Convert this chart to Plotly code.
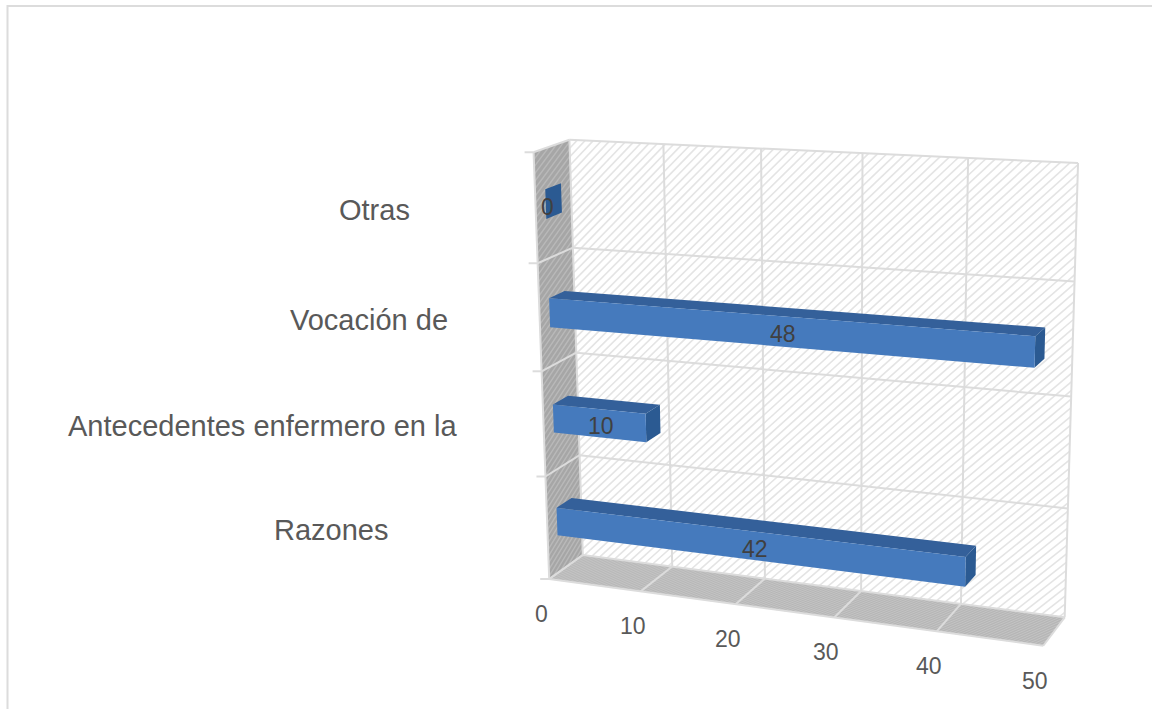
import numpy as np
import plotly.graph_objects as go

# Chart data, bottom to top
categories = ["Razones", "Antecedentes enfermero en la", "Vocación de", "Otras"]
values = [42, 10, 48, 0]
tick_values = [0, 10, 20, 30, 40, 50]

W, H = 1152, 709
V_MAX = 50
N_CAT = len(categories)

TEXT = "#595959"
FONT = "Liberation Sans"
BAR_FRONT, BAR_TOP, BAR_SIDE = "#457abd", "#34609a", "#2b5a92"
GRID = "#dcdcdc"

# Oblique 3D view: reference points (value, category, depth) -> page pixels.
view_pairs = [
    ((0, N_CAT, 1), (570, 140)),
    ((V_MAX, N_CAT, 1), (1078, 163)),
    ((V_MAX, 0, 1), (1065, 617)),
    ((0, 0, 1), (582, 555)),
    ((0, 0, 0), (550, 579)),
    ((V_MAX, 0, 0), (1043, 646)),
    ((0, N_CAT, 0), (533, 152)),
]


def solve_camera(pairs):
    rows = []
    for (x, y, z), (u, v) in pairs:
        # Normalise so the value axis is on the same scale as the others
        p = [x / V_MAX, y / N_CAT, z, 1.0]
        rows.append(p + [0, 0, 0, 0] + [-u * c for c in p])
        rows.append([0, 0, 0, 0] + p + [-v * c for c in p])
    _, _, vt = np.linalg.svd(np.array(rows) / 1000.0)
    return vt[-1].reshape(3, 4)


CAM = solve_camera(view_pairs)


def project(v, c, d):
    h = CAM @ np.array([v / V_MAX, c / N_CAT, d, 1.0])
    return h[0] / h[2], h[1] / h[2]


fig = go.Figure()


def polygon(corners, color):
    pts = [project(*p) for p in corners]
    pts.append(pts[0])
    fig.add_trace(go.Scatter(x=[p[0] for p in pts], y=[p[1] for p in pts], mode="lines",
                             line=dict(width=0), fill="toself", fillcolor=color,
                             hoverinfo="skip", showlegend=False))


def segments(pairs, color, width):
    xs, ys = [], []
    for a, b in pairs:
        pa, pb = project(*a), project(*b)
        xs += [pa[0], pb[0], None]
        ys += [pa[1], pb[1], None]
    fig.add_trace(go.Scatter(x=xs, y=ys, mode="lines", line=dict(color=color, width=width),
                             hoverinfo="skip", showlegend=False))


def hatch(to_3d, w_px, h_px, step, color, width):
    """Up-right diagonal strokes over a wall given by to_3d(u, w), both in 0..1."""
    pairs = []
    for t in np.arange(-h_px, w_px, step):
        # Stroke: u*w_px - w*h_px = t, clipped to the unit square
        u0, w0 = (t / w_px, 0.0) if t >= 0 else (0.0, -t / h_px)
        u1, w1 = (1.0, (w_px - t) / h_px) if (w_px - t) / h_px <= 1 else ((t + h_px) / w_px, 1.0)
        pairs.append((to_3d(u0, w0), to_3d(u1, w1)))
    segments(pairs, color, width)


# Walls and floor
polygon([(0, 0, 1), (V_MAX, 0, 1), (V_MAX, N_CAT, 1), (0, N_CAT, 1)], "#ffffff")
polygon([(0, 0, 0), (0, 0, 1), (0, N_CAT, 1), (0, N_CAT, 0)], "#a6a6a6")
polygon([(0, 0, 0), (V_MAX, 0, 0), (V_MAX, 0, 1), (0, 0, 1)], "#b6b6b6")

hatch(lambda u, w: (u * V_MAX, w * N_CAT, 1), 500, 440, 8.5, "#e4e4e4", 1.6)
hatch(lambda u, w: (0, w * N_CAT, u), 33, 430, 7, "#b9b9b9", 1.4)
hatch(lambda u, w: (u * V_MAX, 0, w), 500, 30, 4, "#c4c4c4", 1.0)

# Gridlines on the three planes
segments([((t, 0, 1), (t, N_CAT, 1)) for t in tick_values], GRID, 2)
segments([((0, c, 1), (V_MAX, c, 1)) for c in range(N_CAT + 1)], GRID, 2)
segments([((0, c, 0), (0, c, 1)) for c in range(N_CAT + 1)], GRID, 2)
segments([((t, 0, 0), (t, 0, 1)) for t in tick_values], GRID, 2)
segments([((0, 0, 0), (V_MAX, 0, 0)), ((0, 0, 0), (0, N_CAT, 0))], GRID, 2)

# Category tick marks left of the side wall
for c in range(N_CAT + 1):
    x0, y0 = project(0, c, 0)
    fig.add_trace(go.Scatter(x=[x0 - 9, x0], y=[y0, y0], mode="lines",
                             line=dict(color=GRID, width=2), hoverinfo="skip", showlegend=False))

# Bars
BAR_C, BAR_HALF = 0.5, 0.135
D0, D1 = 0.28, 0.72
for i, val in enumerate(values):
    lo, hi = i + BAR_C - BAR_HALF, i + BAR_C + BAR_HALF
    polygon([(0, hi, D0), (val, hi, D0), (val, hi, D1), (0, hi, D1)], BAR_TOP)
    polygon([(val, lo, D0), (val, lo, D1), (val, hi, D1), (val, hi, D0)], BAR_SIDE)
    if val > 0:
        polygon([(0, lo, D0), (val, lo, D0), (val, hi, D0), (0, hi, D0)], BAR_FRONT)
    lx, ly = project(val / 2, i + BAR_C, D0)
    fig.add_annotation(x=lx + 2, y=ly + 3, text=str(val), showarrow=False, xanchor="center",
                       yanchor="middle", font=dict(family=FONT, size=23, color="#404040"))

# Value axis labels under the floor edge
for t in tick_values:
    px, py = project(t, 0, 0)
    fig.add_annotation(x=px - 8, y=py + 35, text=str(t), showarrow=False, xanchor="center",
                       yanchor="middle", font=dict(family=FONT, size=23, color=TEXT))

# Category labels, centred in a column left of the plot
label_centres = [331, 262, 369, 374]
for i, name in enumerate(categories):
    _, py = project(0, i + 0.5, 0)
    fig.add_annotation(x=label_centres[i], y=py + 2, text=name, showarrow=False, xanchor="center",
                       yanchor="middle", font=dict(family=FONT, size=29, color=TEXT))

fig.update_layout(
    width=W, height=H, margin=dict(l=0, r=0, t=0, b=0), showlegend=False,
    paper_bgcolor="white", plot_bgcolor="white",
    xaxis=dict(range=[0, W], visible=False, fixedrange=True),
    yaxis=dict(range=[H, 0], visible=False, fixedrange=True),
    shapes=[dict(type="path", path=f"M 7.5 {H} L 7.5 6 L {W} 6", xref="x", yref="y",
                 line=dict(color=GRID, width=2), layer="below")],
)
fig.write_html("out.html", config={"displayModeBar": False})
